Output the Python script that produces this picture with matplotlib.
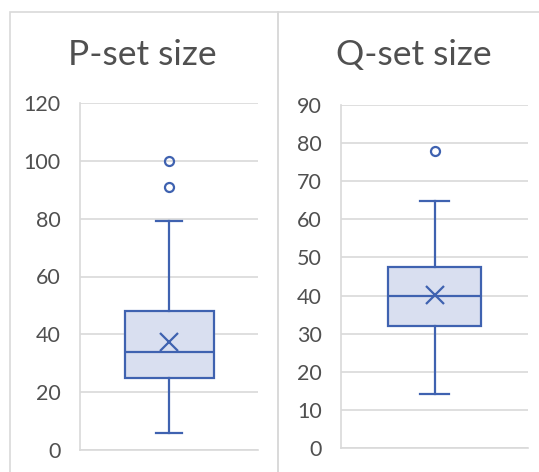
import matplotlib.pyplot as plt
from matplotlib.patches import Rectangle

# box statistics
titles = ["P-set size", "Q-set size"]
q1 = [24.8, 32.0]
medians = [33.8, 40.0]
q3 = [48.2, 47.6]
whisker_low = [6.0, 14.2]
whisker_high = [79.3, 64.9]
means = [37.2, 40.2]
outliers = [[91.0, 100.0], [78.0]]
y_max = [120, 90]
y_step = [20, 10]

edge = "#3F62B0"
fill = "#D9DFF0"
grid = "#D9D9D9"
text = "#505050"

plt.rcParams['font.family'] = ['Lato', 'DejaVu Sans']

W, H = 539, 472
fig = plt.figure(figsize=(W / 100, H / 100), dpi=100)

# axes rectangles in pixels: left, top, right, bottom
ax_px = [(80, 103, 258, 450), (341, 105, 528, 448)]
panel_px = [(10, 12, 278), (278, 12, 560)]
title_x = [142, 414]

for i in range(2):
  # panel border
  px0, py0, px1 = panel_px[i]
  fig.add_artist(Rectangle((px0 / W, -0.1), (px1 - px0) / W, 1.1 - py0 / H,
                           transform=fig.transFigure, fill=False,
                           edgecolor=grid, lw=1.2))
  fig.text(title_x[i] / W, 1 - 55 / H, titles[i], ha="center", va="center",
           fontsize=25.5, color=text)

  l, t, r, b = ax_px[i]
  ax = fig.add_axes([l / W, 1 - b / H, (r - l) / W, (b - t) / H])
  stats = [{
    "med": medians[i], "q1": q1[i], "q3": q3[i],
    "whislo": whisker_low[i], "whishi": whisker_high[i],
    "mean": means[i], "fliers": outliers[i],
  }]
  ax.bxp(stats, positions=[0.5], widths=0.5, capwidths=0.15,
         showmeans=True, patch_artist=True,
         boxprops=dict(facecolor=fill, edgecolor=edge, lw=1.6),
         medianprops=dict(color=edge, lw=1.6),
         whiskerprops=dict(color=edge, lw=1.6),
         capprops=dict(color=edge, lw=1.6),
         meanprops=dict(marker="x", markeredgecolor=edge, markersize=13, mew=1.6),
         flierprops=dict(marker="o", markerfacecolor="none", markeredgecolor=edge,
                         markersize=6.5, mew=1.6),
         zorder=3)
  ax.set_xlim(0, 1)
  ax.set_ylim(0, y_max[i])
  ax.set_yticks(range(0, y_max[i] + 1, y_step[i]))
  ax.set_xticks([])
  ax.yaxis.grid(True, color=grid, lw=1.2)
  ax.set_axisbelow(True)
  ax.tick_params(axis="y", length=0, pad=14, labelsize=15.5, labelcolor=text)
  for s in ["top", "right"]:
    ax.spines[s].set_visible(False)
  for s in ["left", "bottom"]:
    ax.spines[s].set_color(grid)
    ax.spines[s].set_linewidth(1.2)

fig.savefig("out.png", dpi=100)
